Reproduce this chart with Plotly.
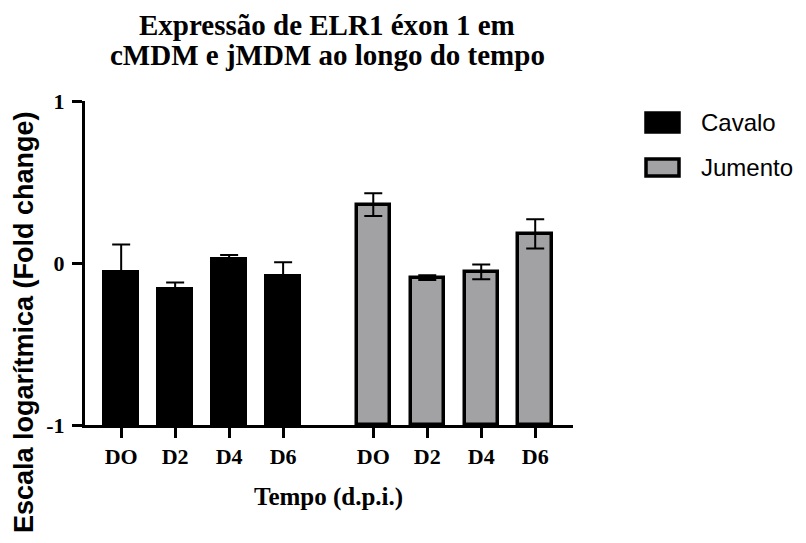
import plotly.graph_objects as go

days = ["DO", "D2", "D4", "D6"]
cavalo_x = [0, 1, 2, 3]
jumento_x = [4.67, 5.67, 6.67, 7.67]
cavalo_vals = [-0.056, -0.16, 0.025, -0.08]
cavalo_err = [0.17, 0.04, 0.025, 0.085]
jumento_vals = [0.36, -0.09, -0.055, 0.18]
jumento_err = [0.07, 0.015, 0.045, 0.09]
y_ticks = [-1, 0, 1]
y_ticktext = ["-1", "0", "1"]
series_names = ["Cavalo", "Jumento"]
series_fill = ["black", "#a2a2a4"]

serif = "Liberation Serif, Times New Roman, serif"
sans = "Liberation Sans, Arial, sans-serif"

L, T, PW, PH = 77, 93, 488, 324
W, H = 806, 543


def px_x(px):
    return (px - L) / PW


def px_y(py):
    return (T + PH - py) / PH


fig = go.Figure()
fig.add_trace(go.Bar(
    x=cavalo_x, y=[v + 1 for v in cavalo_vals], base=-1, name=series_names[0],
    marker=dict(color=series_fill[0], line=dict(color="black", width=3)),
    width=0.62, showlegend=False,
    error_y=dict(type="data", array=cavalo_err, color="black", thickness=2, width=9),
))
fig.add_trace(go.Bar(
    x=jumento_x, y=[v + 1 for v in jumento_vals], base=-1, name=series_names[1],
    marker=dict(color=series_fill[1], line=dict(color="black", width=3.5)),
    width=0.62, showlegend=False,
    error_y=dict(type="data", array=jumento_err, color="black", thickness=2, width=9),
))

fig.update_layout(
    width=W, height=H,
    margin=dict(l=L, r=W - L - PW, t=T, b=H - T - PH),
    plot_bgcolor="white", paper_bgcolor="white",
    showlegend=False,
    bargap=0,
)
fig.update_xaxes(
    range=[-0.67, 8.37], tickmode="array",
    tickvals=cavalo_x + jumento_x, ticktext=["<b>%s</b>" % d for d in days + days],
    showline=True, linecolor="black", linewidth=3,
    ticks="outside", ticklen=10, tickwidth=3, tickcolor="black",
    tickfont=dict(family=serif, size=22, color="black"),
    showgrid=False, zeroline=False, automargin=False,
)
fig.update_yaxes(
    range=[-1, 1], tickmode="array", tickvals=y_ticks,
    ticktext=["<b>%s</b>" % t for t in y_ticktext],
    showline=True, linecolor="black", linewidth=3,
    ticks="outside", ticklen=10, tickwidth=3, tickcolor="black",
    tickfont=dict(family=serif, size=22, color="black"),
    ticklabelstandoff=3,
    showgrid=False, zeroline=False, automargin=False,
)

# title (two lines)
fig.add_annotation(text="<b>Expressão de ELR1 éxon 1 em</b>", xref="paper", yref="paper",
                   x=px_x(319), y=px_y(17), xanchor="center", yanchor="middle", showarrow=False,
                   font=dict(family=serif, size=29, color="black"))
fig.add_annotation(text="<b>cMDM e jMDM ao longo do tempo</b>", xref="paper", yref="paper",
                   x=px_x(319), y=px_y(47), xanchor="center", yanchor="middle", showarrow=False,
                   font=dict(family=serif, size=29, color="black"))
# axis titles
fig.add_annotation(text="<b>Tempo (d.p.i.)</b>", xref="paper", yref="paper",
                   x=px_x(320), y=px_y(489), xanchor="center", yanchor="middle", showarrow=False,
                   font=dict(family=serif, size=25, color="black"))
fig.add_annotation(text="<b>Escala logarítmica (Fold change)</b>", textangle=-90,
                   xref="paper", yref="paper", x=px_x(16), y=px_y(314),
                   xanchor="center", yanchor="middle", showarrow=False,
                   font=dict(family=sans, size=27, color="black"))

# legend
leg_rows = [(105, 124), (151, 168)]
for name, fill, (y0, y1) in zip(series_names, series_fill, leg_rows):
    fig.add_shape(type="rect", xref="paper", yref="paper",
                  x0=px_x(638), x1=px_x(671), y0=px_y(y1), y1=px_y(y0),
                  fillcolor=fill, line=dict(color="black", width=3.5))
    fig.add_annotation(text=name, xref="paper", yref="paper",
                       x=px_x(691), y=px_y((y0 + y1) / 2), xanchor="left", yanchor="middle",
                       showarrow=False, font=dict(family=sans, size=24, color="black"))

fig.write_html("out.html")
